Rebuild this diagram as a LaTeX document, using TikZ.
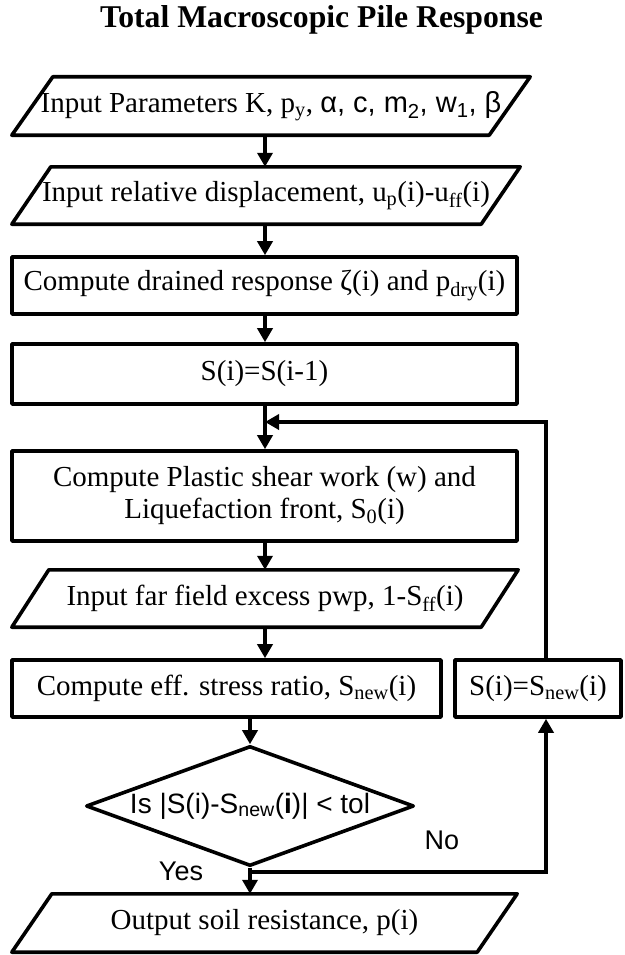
\documentclass[tikz,border=0pt]{standalone}
\usepackage{fontspec}
\setmainfont{Liberation Serif}
\newfontfamily\arialf{Liberation Sans}
\usetikzlibrary{shapes.geometric,arrows.meta,calc}
\newcommand{\sbs}[1]{\textsubscript{#1}}
\newcommand{\paraframe}[2]{\draw[bd] ($(#1.north west)+(#2,0)$) -- (#1.north east) -- ($(#1.south east)-(#2,0)$) -- (#1.south west) -- cycle;}
\begin{document}
\begin{tikzpicture}[x=1pt,y=-1pt,
  bd/.style={line width=3.6pt, line join=round},
  arr/.style={line width=3.6pt, -{Triangle[width=15pt,length=14pt]}},
  txt/.style={font=\fontsize{29}{32}\selectfont, inner sep=0pt, align=center},
  boxn/.style={txt, draw, bd, rectangle},
  paran/.style={txt, rectangle},
  lbl/.style={font=\arialf\fontsize{27}{30}\selectfont, inner sep=0pt},
]
\useasboundingbox (0,0) rectangle (624,955);

\node[font=\bfseries\fontsize{31.7}{34}\selectfont, anchor=base, inner sep=0pt] (title) at (321.5,28) {Total Macroscopic Pile Response};

\node[paran, minimum width=518pt, minimum height=58pt] (p1) at (271,106)
  {Input Parameters K, p\sbs{y}, {\arialf α, c, m\sbs{2}, w\sbs{1}, β}};
\paraframe{p1}{41}

\node[paran, minimum width=508pt, minimum height=57pt] (p2) at (266,195.5)
  {Input relative displacement, u\sbs{p}(i)-u\sbs{ff}(i)};
\paraframe{p2}{39}

\node[boxn, minimum width=505pt, minimum height=57pt] (b3) at (264.5,285.5)
  {Compute drained response ζ(i) and p\sbs{dry}(i)};

\node[boxn, minimum width=505pt, minimum height=60pt] (b4) at (264.5,374)
  {S(i)=S(i-1)};

\node[boxn, minimum width=505pt, minimum height=90pt] (b5) at (264.5,496)
  {Compute Plastic shear work (w) and\\Liquefaction front, S\sbs{0}(i)};

\node[paran, minimum width=506pt, minimum height=57pt] (p6) at (265,598.5)
  {Input far field excess pwp, 1-S\sbs{ff}(i)};
\paraframe{p6}{37}

\node[boxn, minimum width=429pt, minimum height=57pt] (b7) at (226.5,688.5)
  {Compute eff. stress ratio, S\sbs{new}(i)};

\node[boxn, minimum width=166pt, minimum height=57pt] (b8) at (538,688.5)
  {S(i)=S\sbs{new}(i)};

\node[draw, bd, shape=diamond, aspect=2.733, minimum width=328pt, minimum height=120pt,
  inner sep=0pt, font=\arialf\fontsize{28}{30}\selectfont] (dia) at (250,806)
  {\makebox[0pt]{Is |S(i)-S\sbs{new}(\textbf{i})| < tol}};

\node[paran, minimum width=505pt, minimum height=58pt] (out) at (264.5,923)
  {Output soil resistance, p(i)};
\paraframe{out}{40}

\node[lbl] (yes) at (181,871) {Yes};
\node[lbl] (no) at (442,840) {No};

\coordinate (c1) at (265,0);
\coordinate (fb) at (546,422);
\coordinate (hl) at (250,872);

\draw[arr] (p1.south -| c1) -- (p2.north -| c1);
\draw[arr] (p2.south -| c1) -- (b3.north -| c1);
\draw[arr] (b3.south -| c1) -- (b4.north -| c1);
\draw[arr] (b4.south -| c1) -- (b5.north -| c1);
\draw[arr] (b5.south -| c1) -- (p6.north -| c1);
\draw[arr] (p6.south -| c1) -- (b7.north -| c1);
\draw[arr] (b7.south -| dia) -- (dia.north);
\draw[arr] (dia.south) -- (out.north -| dia);
\draw[arr] (b8.north -| fb) -- (fb) -- (fb -| c1);
\draw[arr] (hl) -- (hl -| fb) -- (b8.south -| fb);
\end{tikzpicture}
\end{document}
